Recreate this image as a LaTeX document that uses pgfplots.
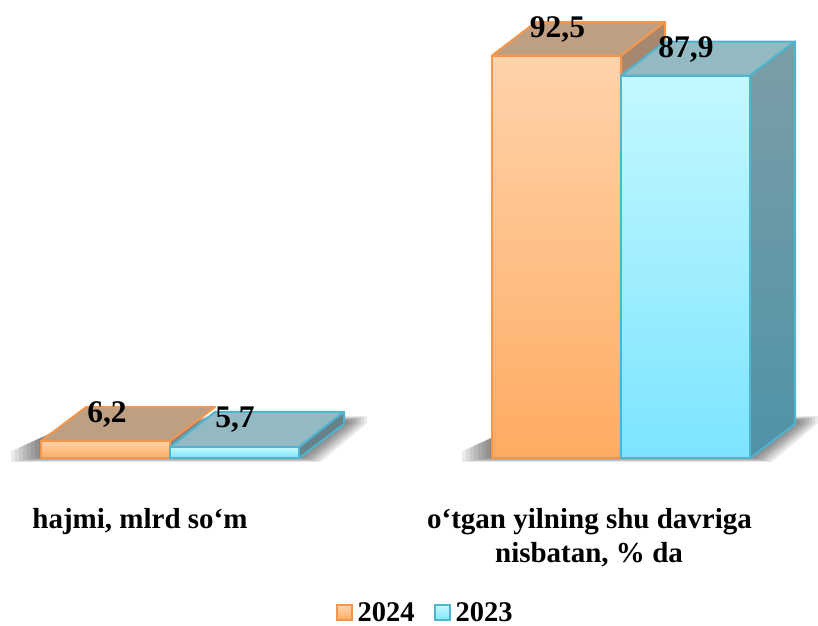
\documentclass[border=0pt]{standalone}
\usepackage{pgfplots}
\pgfplotsset{compat=1.18}
\usepackage{fontspec}
\setmainfont{Liberation Serif}
\definecolor{orEdge}{HTML}{F4964C}
\definecolor{blEdge}{HTML}{4FB4CF}
\definecolor{orTop}{HTML}{BF9F82}
\definecolor{blTop}{HTML}{93B9C2}
\definecolor{orSide}{HTML}{A5886F}
\definecolor{orA}{HTML}{FFD3AB}
\definecolor{orB}{HTML}{FFAB62}
\definecolor{blA}{HTML}{C4F8FF}
\definecolor{blB}{HTML}{7CE4FF}
\pgfplotsset{
  shad/.style={draw=none,fill=black,fill opacity=0.08,forget plot},
  face/.style={line width=2pt,line join=round,forget plot},
  front/.style={ybar,bar width=129,bar shift=0pt,line width=2pt,forget plot},
}
\tikzset{
  val/.style={font=\bfseries\fontsize{31.5}{33}\selectfont,text=black,inner sep=0pt,anchor=base},
  cat/.style={font=\bfseries\fontsize{29}{31}\selectfont,text=black,inner sep=0pt,anchor=base},
}
\begin{document}
\begin{tikzpicture}
\begin{axis}[
  scale only axis,width=818pt,height=625pt,
  xmin=0,xmax=818,ymin=-38.38,ymax=105.26,
  hide axis,clip=false,
  legend style={at={(axis cs:425,-35.6)},anchor=center,draw=none,fill=none,
    legend columns=2,font=\bfseries\fontsize{28.5}{30}\selectfont,
    /tikz/every even column/.style={column sep=17pt},inner sep=0pt},
]
\path (axis cs:0,-38.38) rectangle (axis cs:818,105.26);
% shadows, group 1
\addplot[shad] coordinates {(11,-0.9)(321,-0.9)(367,8)(367,9.6)(85,9.6)(11,1.5)};
\addplot[shad] coordinates {(15,-0.8)(318,-0.8)(364,8)(364,9.45)(85,9.45)(15,1.9)};
\addplot[shad] coordinates {(19,-0.65)(315,-0.65)(361,8)(361,9.3)(85,9.3)(19,2.35)};
\addplot[shad] coordinates {(23,-0.5)(312,-0.5)(358,8)(358,9.15)(85,9.15)(23,2.8)};
\addplot[shad] coordinates {(27,-0.4)(310,-0.4)(355,8)(355,9)(85,9)(27,3.2)};
\addplot[shad] coordinates {(31,-0.25)(307,-0.25)(352,8)(352,8.85)(85,8.85)(31,3.65)};
\addplot[shad] coordinates {(35,-0.1)(304,-0.1)(349,8)(349,8.65)(85,8.65)(35,4.1)};
\addplot[shad] coordinates {(39,0)(301,0)(346,8)(346,8.5)(85,8.5)(39,4.5)};
% shadows, group 2
\addplot[shad] coordinates {(462,-0.9)(772,-0.9)(818,8)(818,9.6)(536,9.6)(462,1.5)};
\addplot[shad] coordinates {(466,-0.8)(769,-0.8)(815,8)(815,9.45)(536,9.45)(466,1.9)};
\addplot[shad] coordinates {(470,-0.65)(766,-0.65)(812,8)(812,9.3)(536,9.3)(470,2.35)};
\addplot[shad] coordinates {(474,-0.5)(763,-0.5)(809,8)(809,9.15)(536,9.15)(474,2.8)};
\addplot[shad] coordinates {(478,-0.4)(761,-0.4)(806,8)(806,9)(536,9)(478,3.2)};
\addplot[shad] coordinates {(482,-0.25)(758,-0.25)(803,8)(803,8.85)(536,8.85)(482,3.65)};
\addplot[shad] coordinates {(486,-0.1)(755,-0.1)(800,8)(800,8.65)(536,8.65)(486,4.1)};
\addplot[shad] coordinates {(490,0)(752,0)(797,8)(797,8.5)(536,8.5)(490,4.5)};

% group 1, orange
\addplot[face,draw=orEdge,fill=orTop] coordinates {(41,3.9)(170,3.9)(215,11.7)(86,11.7)(41,3.9)};
\addplot[front,draw=orEdge,top color=orA,bottom color=orB] coordinates {(105.5,3.9)};
% group 1, blue
\addplot[face,draw=blEdge,fill=blTop] coordinates {(170,2.5)(299,2.5)(344,10.6)(215,10.6)(170,2.5)};
\addplot[face,draw=blEdge,fill=blTop!70!black] coordinates {(299,0)(344,7.8)(344,10.6)(299,2.5)(299,0)};
\addplot[front,draw=blEdge,top color=blA,bottom color=blB] coordinates {(234.5,2.5)};

% group 2, orange
\addplot[face,draw=orEdge,fill=orTop] coordinates {(492,92.5)(621,92.5)(665,100.2)(536,100.2)(492,92.5)};
\addplot[face,draw=orEdge,fill=orSide] coordinates {(621,80)(665,80)(665,100.2)(621,92.5)(621,80)};
\addplot[front,draw=orEdge,top color=orA,bottom color=orB] coordinates {(556.5,92.5)};
% group 2, blue
\addplot[face,draw=blEdge,fill=blTop] coordinates {(621,87.9)(750,87.9)(795,95.7)(665,95.7)(621,87.9)};
\addplot[face,draw=blEdge,top color={rgb,255:red,123;green,158;blue,167},bottom color={rgb,255:red,79;green,146;blue,168}] coordinates {(750,0)(795,7.8)(795,95.7)(750,87.9)(750,0)};
\addplot[front,draw=blEdge,top color=blA,bottom color=blB] coordinates {(685.5,87.9)};

% value labels
\node[val] at (axis cs:107,8.27) {6,2};
\node[val] at (axis cs:235,6.9) {5,7};
\node[val] at (axis cs:557.5,96.53) {92,5};
\node[val] at (axis cs:686,91.93) {87,9};
% category labels
\node[cat] at (axis cs:140,-16.09) {hajmi, mlrd so‘m};
\node[cat] at (axis cs:589.5,-16.09) {o‘tgan yilning shu davriga};
\node[cat] at (axis cs:589,-24.13) {nisbatan, \% da};

\addlegendimage{legend image code/.code={\path[draw=none] (0pt,0pt) -- (19pt,0pt);\draw[line width=2pt,draw=orEdge,top color=orA,bottom color=orB] (0pt,-7.5pt) rectangle (15pt,7.5pt);}}
\addlegendentry{2024}
\addlegendimage{legend image code/.code={\path[draw=none] (0pt,0pt) -- (19pt,0pt);\draw[line width=2pt,draw=blEdge,top color=blA,bottom color=blB] (0pt,-7.5pt) rectangle (15pt,7.5pt);}}
\addlegendentry{2023}
\end{axis}
\end{tikzpicture}
\end{document}
